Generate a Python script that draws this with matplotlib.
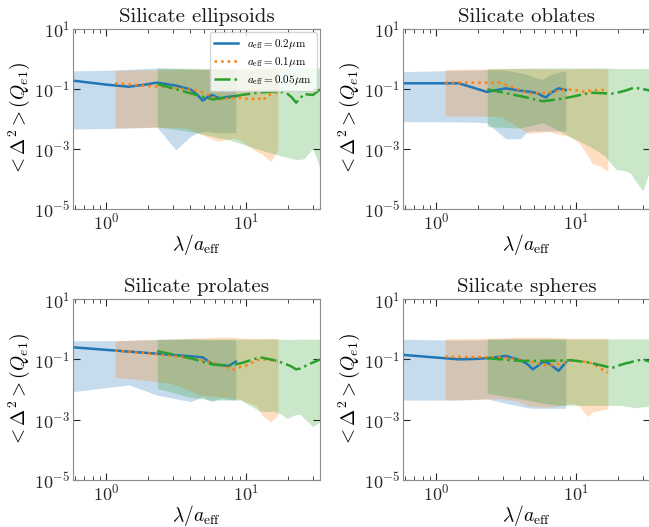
import matplotlib
matplotlib.use("Agg")
from matplotlib import pyplot as plt
from matplotlib.ticker import LogLocator, NullLocator, NullFormatter

plt.rcParams['font.family'] = 'serif'
plt.rcParams['font.serif'] = ['cmr10']
plt.rcParams['mathtext.fontset'] = 'cm'
plt.rcParams['axes.formatter.use_mathtext'] = True

# wavelength grid (micron) and grain sizes
lam = [0.116, 0.2, 0.29, 0.38, 0.46, 0.63, 0.8, 0.9, 0.98, 1.06, 1.14, 1.22, 1.3, 1.5, 1.69]
sizes = [0.2, 0.1, 0.05]
size_labels = [r'$a_{\rm eff}=0.2\mu$m', r'$a_{\rm eff}=0.1\mu$m', r'$a_{\rm eff}=0.05\mu$m']
titles = ['Silicate ellipsoids', 'Silicate oblates', 'Silicate prolates', 'Silicate spheres']

# ellipsoids
ell_b = [0.19, 0.14, 0.119, 0.14, 0.163, 0.13, 0.097, 0.063, 0.041, 0.053, 0.063, 0.055, 0.049, 0.055, 0.058]
ell_b_lo = [0.0046, 0.0048, 0.005, 0.0052, 0.0055, 0.00093, 0.0026, 0.0035, 0.0038, 0.0038, 0.0036, 0.0035, 0.0035, 0.0035, 0.0035]
ell_b_hi = [0.4, 0.42, 0.45, 0.48, 0.5, 0.48, 0.46, 0.45, 0.45, 0.45, 0.45, 0.45, 0.45, 0.45, 0.45]
ell_o = [0.155, 0.126, 0.114, 0.097, 0.088, 0.045, 0.05, 0.051, 0.049, 0.045, 0.047, 0.05, 0.041, 0.068, 0.077]
ell_o_lo = [0.0051, 0.0052, 0.0053, 0.0049, 0.0033, 0.0018, 0.0023, 0.002, 0.0015, 0.0012, 0.00093, 0.00076, 0.00068, 0.00038, 0.00093]
ell_o_hi = [0.42, 0.43, 0.44, 0.45, 0.45, 0.44, 0.43, 0.42, 0.43, 0.44, 0.45, 0.45, 0.45, 0.45, 0.45]
ell_g = [0.147, 0.072, 0.045, 0.053, 0.063, 0.077, 0.081, 0.079, 0.072, 0.053, 0.035, 0.049, 0.068, 0.063, 0.097]
ell_g_lo = [0.0055, 0.0038, 0.0026, 0.002, 0.0015, 0.00093, 0.00068, 0.00058, 0.00053, 0.00048, 0.00045, 0.00045, 0.00048, 0.00105, 0.00023]
ell_g_hi = [0.5, 0.49, 0.48, 0.48, 0.47, 0.48, 0.5, 0.5, 0.49, 0.48, 0.5, 0.5, 0.49, 0.5, 0.5]

# oblates
obl_b = [0.155, 0.155, 0.155, 0.106, 0.08, 0.105, 0.088, 0.082, 0.078, 0.072, 0.06, 0.052, 0.07, 0.105, 0.092]
obl_b_lo = [0.0081, 0.0081, 0.008, 0.0078, 0.0075, 0.0022, 0.0022, 0.0038, 0.004, 0.004, 0.004, 0.004, 0.004, 0.004, 0.004]
obl_b_hi = [0.38, 0.4, 0.42, 0.43, 0.44, 0.42, 0.35, 0.3, 0.26, 0.23, 0.21, 0.25, 0.3, 0.36, 0.4]
obl_o = [0.163, 0.163, 0.16, 0.1, 0.07, 0.075, 0.092, 0.095, 0.092, 0.088, 0.081, 0.085, 0.09, 0.092, 0.092]
obl_o_lo = [0.0126, 0.0126, 0.012, 0.0055, 0.0033, 0.0038, 0.0029, 0.0026, 0.002, 0.0015, 0.00093, 0.00056, 0.00033, 0.00026, 0.00018]
obl_o_hi = [0.45, 0.46, 0.47, 0.48, 0.48, 0.47, 0.46, 0.46, 0.47, 0.48, 0.48, 0.48, 0.48, 0.47, 0.47]
obl_g = [0.097, 0.058, 0.039, 0.046, 0.054, 0.075, 0.072, 0.07, 0.075, 0.082, 0.09, 0.1, 0.111, 0.1, 0.088]
obl_g_lo = [0.0055, 0.005, 0.0075, 0.004, 0.0025, 0.0012, 0.0006, 0.0003, 0.0002, 0.0002, 0.00018, 0.00016, 0.0001, 0.00004, 0.0002]
obl_g_hi = [0.48, 0.49, 0.5, 0.5, 0.5, 0.5, 0.5, 0.49, 0.48, 0.48, 0.48, 0.48, 0.48, 0.48, 0.48]

# prolates
pro_b = [0.254, 0.209, 0.183, 0.167, 0.156, 0.139, 0.128, 0.122, 0.118, 0.092, 0.071, 0.067, 0.066, 0.061, 0.085]
pro_b_lo = [0.0085, 0.0116, 0.0143, 0.0092, 0.0066, 0.005, 0.004, 0.0049, 0.0058, 0.0045, 0.004, 0.0045, 0.005, 0.0047, 0.0045]
pro_b_hi = [0.42, 0.42, 0.43, 0.45, 0.46, 0.48, 0.48, 0.47, 0.46, 0.45, 0.45, 0.45, 0.45, 0.45, 0.45]
pro_o = [0.197, 0.16, 0.134, 0.115, 0.101, 0.071, 0.047, 0.055, 0.061, 0.071, 0.085, 0.096, 0.101, 0.096, 0.085]
pro_o_lo = [0.0256, 0.02, 0.016, 0.01, 0.0066, 0.0058, 0.0052, 0.0047, 0.004, 0.0036, 0.0032, 0.0025, 0.0014, 0.00085, 0.0014]
pro_o_hi = [0.42, 0.45, 0.47, 0.5, 0.52, 0.55, 0.55, 0.52, 0.5, 0.5, 0.5, 0.5, 0.5, 0.5, 0.5]
pro_g = [0.19, 0.11, 0.068, 0.063, 0.075, 0.118, 0.094, 0.079, 0.068, 0.058, 0.047, 0.05, 0.058, 0.079, 0.1]
pro_g_lo = [0.011, 0.0055, 0.0045, 0.0045, 0.0045, 0.0019, 0.0019, 0.0015, 0.0011, 0.0013, 0.0015, 0.0015, 0.0011, 0.00059, 0.00086]
pro_g_hi = [0.47, 0.47, 0.48, 0.48, 0.47, 0.47, 0.48, 0.47, 0.46, 0.46, 0.47, 0.48, 0.47, 0.47, 0.47]

# spheres
sph_b = [0.142, 0.116, 0.101, 0.104, 0.11, 0.131, 0.095, 0.07, 0.047, 0.06, 0.08, 0.082, 0.07, 0.042, 0.08]
sph_b_lo = [0.0045, 0.0045, 0.0045, 0.0047, 0.005, 0.0035, 0.0028, 0.0025, 0.0024, 0.0024, 0.0024, 0.0024, 0.0024, 0.0024, 0.0024]
sph_b_hi = [0.47, 0.45, 0.44, 0.44, 0.46, 0.48, 0.48, 0.47, 0.47, 0.47, 0.47, 0.47, 0.47, 0.47, 0.47]
sph_o = [0.124, 0.12, 0.118, 0.1, 0.088, 0.062, 0.075, 0.09, 0.092, 0.088, 0.085, 0.08, 0.075, 0.05, 0.037]
sph_o_lo = [0.0045, 0.0048, 0.005, 0.0042, 0.0028, 0.0026, 0.003, 0.0035, 0.0033, 0.0028, 0.0018, 0.00126, 0.0018, 0.0021, 0.0023]
sph_o_hi = [0.48, 0.5, 0.52, 0.55, 0.55, 0.55, 0.52, 0.5, 0.5, 0.5, 0.5, 0.5, 0.5, 0.5, 0.5]
sph_g = [0.11, 0.09, 0.09, 0.092, 0.095, 0.078, 0.06, 0.052, 0.06, 0.068, 0.075, 0.08, 0.088, 0.1, 0.085]
sph_g_lo = [0.0075, 0.005, 0.0035, 0.003, 0.003, 0.003, 0.003, 0.003, 0.003, 0.003, 0.0028, 0.0027, 0.0025, 0.0027, 0.0028]
sph_g_hi = [0.48, 0.48, 0.49, 0.49, 0.48, 0.48, 0.48, 0.48, 0.48, 0.48, 0.48, 0.48, 0.48, 0.48, 0.48]

panels = [
    [(ell_b, ell_b_lo, ell_b_hi), (ell_o, ell_o_lo, ell_o_hi), (ell_g, ell_g_lo, ell_g_hi)],
    [(obl_b, obl_b_lo, obl_b_hi), (obl_o, obl_o_lo, obl_o_hi), (obl_g, obl_g_lo, obl_g_hi)],
    [(pro_b, pro_b_lo, pro_b_hi), (pro_o, pro_o_lo, pro_o_hi), (pro_g, pro_g_lo, pro_g_hi)],
    [(sph_b, sph_b_lo, sph_b_hi), (sph_o, sph_o_lo, sph_o_hi), (sph_g, sph_g_lo, sph_g_hi)],
]

colors = ['#1f77b4', '#ff7f0e', '#2ca02c']
styles = ['-', ':', '-.']

fig = plt.figure(figsize=(6.49, 5.27), dpi=100)
boxes = [
    [0.1125, 0.6034, 0.3806, 0.3416],
    [0.621, 0.6034, 0.3806, 0.3416],
    [0.1125, 0.0892, 0.3806, 0.3430],
    [0.621, 0.0892, 0.3806, 0.3430],
]

for k in range(4):
    ax = fig.add_axes(boxes[k])
    for j in range(3):
        mean, lo, hi = panels[k][j]
        x = [l / sizes[j] for l in lam]
        ax.plot(x, mean, color=colors[j], ls=styles[j], lw=1.8, label=size_labels[j])
        ax.fill_between(x, lo, hi, color=colors[j], alpha=0.25, lw=0)
    ax.set_xscale('log')
    ax.set_yscale('log')
    ax.set_xlim(lam[0] / sizes[0], lam[-1] / sizes[-1])
    ax.set_ylim(1e-5, 1e1)
    ax.set_yticks([1e-5, 1e-3, 1e-1, 1e1])
    ax.yaxis.set_minor_locator(NullLocator())
    ax.xaxis.set_minor_locator(LogLocator(base=10, subs=range(2, 10)))
    ax.xaxis.set_minor_formatter(NullFormatter())
    ax.tick_params(which='both', direction='in', top=True, right=True, labelsize=13, colors='0.15')
    ax.tick_params(which='major', length=5, pad=2)
    ax.tick_params(which='minor', length=3)
    for s in ax.spines.values():
        s.set_color('0.55')
    ax.set_title(titles[k], fontsize=15, color='0.1', pad=5)
    ax.set_xlabel(r'$\lambda/a_{\rm eff}$', fontsize=14, labelpad=0)
    ax.set_ylabel(r'$<\Delta^2>(Q_{e1})$', fontsize=14, labelpad=1)
    if k == 0:
        ax.legend(loc='upper right', fontsize=8, handlelength=2.2, labelspacing=0.35,
                  borderaxespad=0.3, framealpha=0.8)

fig.savefig('out.png', dpi=100)
